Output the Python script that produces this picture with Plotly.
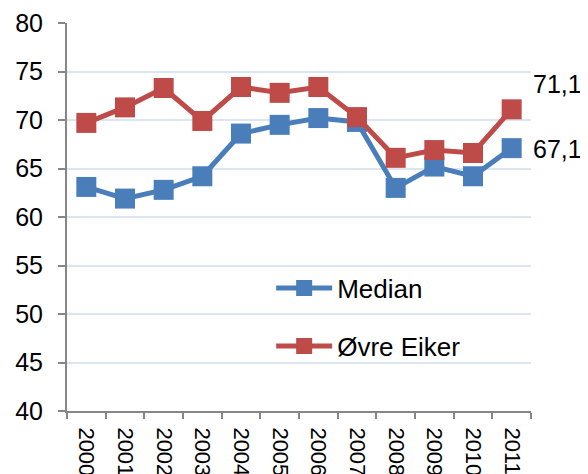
import plotly.graph_objects as go

years = [str(y) for y in range(2000, 2012)]
median = [63.1, 61.9, 62.8, 64.2, 68.6, 69.5, 70.2, 69.8, 63.0, 65.2, 64.2, 67.1]
ovre_eiker = [69.7, 71.3, 73.3, 69.9, 73.4, 72.8, 73.4, 70.3, 66.1, 66.9, 66.6, 71.1]
y_ticks = [40, 45, 50, 55, 60, 65, 70, 75, 80]

BLUE = "#4a7ebb"
RED = "#be4b48"
FONT = "Liberation Sans, Arial, sans-serif"

fig = go.Figure()
fig.add_trace(go.Scatter(
    x=years, y=median, name="Median", mode="lines+markers",
    line=dict(color=BLUE, width=5),
    marker=dict(symbol="square", size=20, color=BLUE),
    legendgroup="a",
))
fig.add_trace(go.Scatter(
    x=years, y=ovre_eiker, name="Øvre Eiker", mode="lines+markers",
    line=dict(color=RED, width=5),
    marker=dict(symbol="square", size=20, color=RED),
    legendgroup="b",
))

def fmt(v):
    return f"{v:.1f}".replace(".", ",")

fig.add_annotation(x=1, xref="paper", y=ovre_eiker[-1], yref="y",
                   text=fmt(ovre_eiker[-1]), showarrow=False,
                   xanchor="left", yanchor="middle", xshift=0, yshift=25,
                   font=dict(family=FONT, size=25, color="#000"))
fig.add_annotation(x=1, xref="paper", y=median[-1], yref="y",
                   text=fmt(median[-1]), showarrow=False,
                   xanchor="left", yanchor="middle", xshift=0, yshift=-1,
                   font=dict(family=FONT, size=25, color="#000"))

fig.update_layout(
    width=580, height=466,
    margin=dict(l=59, r=57, t=15, b=63, autoexpand=False),
    paper_bgcolor="white", plot_bgcolor="white",
    font=dict(family=FONT, color="#000"),
    showlegend=True,
    legend=dict(
        x=0.44, y=0.377, xanchor="left", yanchor="top",
        bgcolor="rgba(0,0,0,0)",
        font=dict(family=FONT, size=26, color="#000"),
        itemwidth=56, tracegroupgap=21, traceorder="grouped",
    ),
)
fig.update_xaxes(
    type="category", tickangle=90, tickson="boundaries",
    ticks="outside", ticklen=6, tickcolor="#868686", tickwidth=2,
    showline=True, linecolor="#868686", linewidth=2,
    showgrid=False, automargin=False, ticklabelstandoff=10,
    tickfont=dict(family=FONT, size=22, color="#000"),
    range=[-0.5, 11.5],
)
fig.update_yaxes(
    range=[40, 80], tickvals=y_ticks,
    ticks="outside", ticklen=7, tickcolor="#868686", tickwidth=2,
    showline=True, linecolor="#868686", linewidth=2,
    showgrid=True, gridcolor="#dce6f2", gridwidth=2,
    zeroline=False, automargin=False, ticklabelstandoff=10,
    tickfont=dict(family=FONT, size=25, color="#000"),
)

fig.write_html("out.html")
